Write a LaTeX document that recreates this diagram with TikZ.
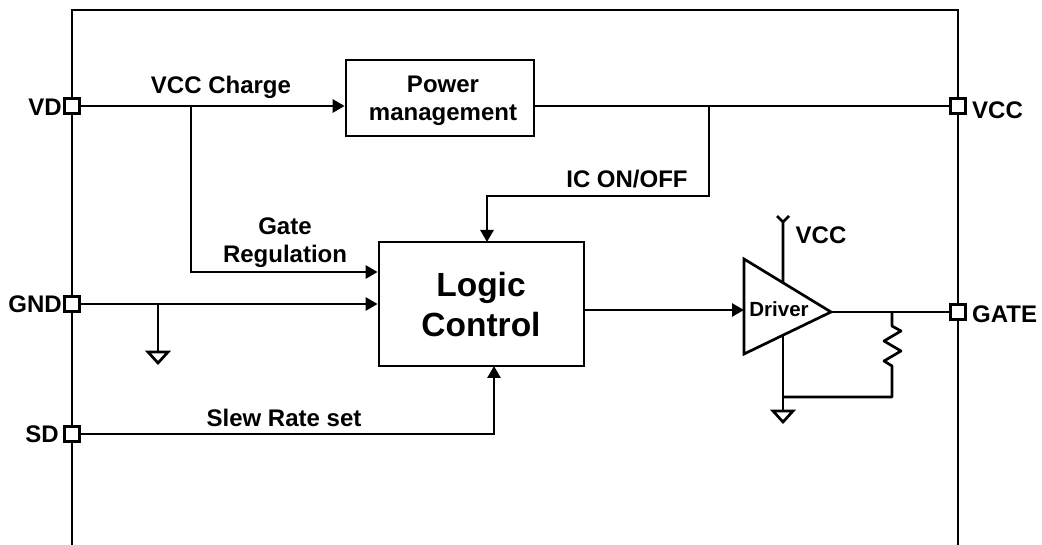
\documentclass[tikz,border=0pt]{standalone}
\usepackage{fontspec}
\setmainfont{Liberation Sans}
\usetikzlibrary{arrows.meta}
\tikzset{
  wire/.style={line width=2.7pt},
  sig/.style={wire,-{Triangle[length=12pt,width=13pt]}},
  pin/.style={draw,line width=2.2pt,fill=white,minimum size=15pt,inner sep=0pt},
  block/.style={draw,line width=2.7pt,inner sep=0pt},
  lbl/.style={font=\bfseries\fontsize{24}{28}\selectfont,align=center,inner sep=0pt},
}
\begin{document}
\begin{tikzpicture}[x=1pt,y=-1pt]
\useasboundingbox (0,0) rectangle (1042,545);
% outline
\draw[wire] (72,545) -- (72,10) -- (958,10) -- (958,545);
% blocks
\node[block,minimum width=188pt,minimum height=76pt] (power) at (440,98) {};
\node[lbl] at (443,101) {Power\\management};
\node[block,minimum width=205pt,minimum height=124pt] (logic) at (481.5,304) {};
\node[lbl,font=\bfseries\fontsize{33.5}{40}\selectfont] at (481,305) {Logic\\Control};
\coordinate (drvtop) at (744,259);
\coordinate (drvbot) at (744,354);
\coordinate (drvout) at (831,312);
\draw[wire,line join=miter] (drvtop) -- (drvout) -- (drvbot) -- cycle;
\node[lbl,font=\bfseries\fontsize{20.5}{24}\selectfont] (driver) at (779,309) {Driver};
% pins
\node[pin] (vd) at (72,106) {};
\node[pin] (gnd) at (72,304) {};
\node[pin] (sd) at (72,434) {};
\node[pin] (vcc) at (958,106) {};
\node[pin] (gate) at (958,312) {};
\node[lbl,anchor=east] at (62,107) {VD};
\node[lbl,anchor=east] at (62,304) {GND};
\node[lbl,anchor=east] at (59,434) {SD};
\node[lbl,anchor=west] at (972,110) {VCC};
\node[lbl,anchor=west] at (972,314) {GATE};
% top row
\coordinate (chg) at (191,106);
\coordinate (onoff) at (709,106);
\draw[sig] (vd) -- (power.west |- vd);
\draw[wire] (power.east |- vcc) -- (vcc);
\draw[sig] (chg) -- (191,272) -- (logic.west |- 0,272);
\draw[sig] (onoff) -- (709,196) -- (487,196) -- (487,242);
\node[lbl] at (221,87) {VCC Charge};
\node[lbl] at (627,179) {IC ON/OFF};
\node[lbl] at (285,243) {Gate\\Regulation};
% left inputs
\coordinate (tap) at (158,304);
\draw[sig] (gnd) -- (logic.west |- gnd);
\draw[wire] (tap) -- (158,352);
\draw[wire,line join=miter] (148,352) -- (168,352) -- (158,363) -- cycle;
\draw[sig] (sd) -- (494,434) -- (494,366);
\node[lbl] at (284,418) {Slew Rate set};
% driver
\draw[sig] (logic.east |- 0,310) -- (744,310);
\draw[wire] (drvout) -- (gate);
\draw[wire] (783,283) -- (783,221) (777,216) -- (783,222) -- (789,216);
\node[lbl] at (821,235) {VCC};
\draw[wire] (783,335) -- (783,411);
\draw[wire,line join=miter] (773,411) -- (793,411) -- (783,422) -- cycle;
\draw[wire,line join=round] (892,312) -- (892,326) -- (901,331) -- (884,341) -- (901,351) -- (884,361) -- (892,366) -- (892,397) -- (783,397);
\end{tikzpicture}
\end{document}
